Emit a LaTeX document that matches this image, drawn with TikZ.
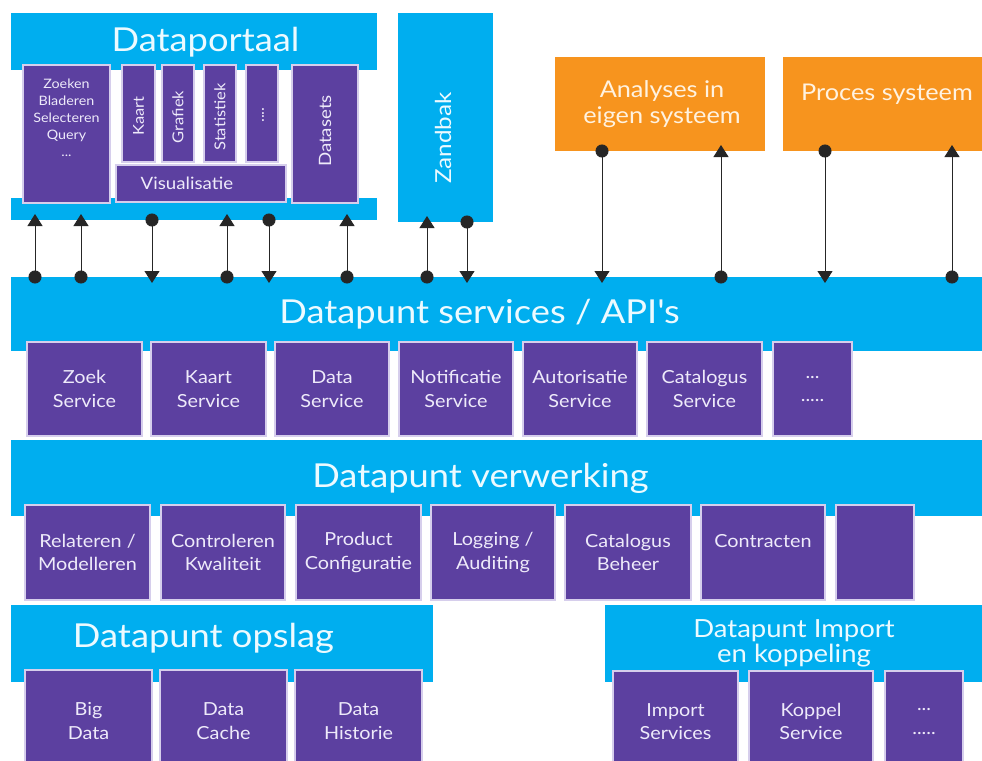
\documentclass[tikz,border=0pt]{standalone}
\usepackage{fontspec}
\setmainfont{Lato}[FakeStretch=1.1]
\usetikzlibrary{arrows.meta}

\definecolor{bandblue}{RGB}{0,174,239}
\definecolor{purp}{RGB}{92,64,160}
\definecolor{pline}{RGB}{214,206,236}
\definecolor{ptext}{RGB}{238,234,250}
\definecolor{htext}{RGB}{236,250,255}
\definecolor{orng}{RGB}{247,148,30}
\definecolor{otext}{RGB}{255,242,224}

\begin{document}
\begin{tikzpicture}[x=1pt,y=-1pt,
  band/.style={fill=bandblue, draw=none, inner sep=0pt, outer sep=0pt, anchor=north west},
  obox/.style={fill=orng, draw=none, inner sep=0pt, outer sep=0pt, anchor=north west},
  pbox/.style={fill=purp, draw=pline, line width=1.4pt, inner sep=0pt, outer sep=0pt,
    anchor=north west, align=center, text=ptext, font=\fontsize{18}{23.5}\selectfont},
  head/.style={text=htext, inner sep=0pt, align=center, font=\fontsize{33}{36}\selectfont},
  otxt/.style={text=otext, inner sep=0pt, align=center, font=\fontsize{23}{26}\selectfont},
  ptxt/.style={text=ptext, inner sep=0pt, align=center},
  vtxt/.style={ptxt, rotate=90},
  link/.style={draw=black!85, line width=0.9pt,
    {Circle[length=13pt]}-{Triangle[length=12pt,width=15pt]},
    shorten <=-6.5pt, shorten >=-6pt}
]
\useasboundingbox (0,0) rectangle (982,760);

% ---------- blue layers ----------
\node[band, minimum width=366pt, minimum height=57pt] (portaltop) at (11,13) {};
\node[band, minimum width=366pt, minimum height=22pt] (portalbase) at (11,198) {};
\node[band, minimum width=95pt, minimum height=209pt] (zandbak) at (398,13) {};
\node[band, minimum width=975pt, minimum height=74pt] (svcband) at (11,277) {};
\node[band, minimum width=975pt, minimum height=76pt] (verwband) at (11,440) {};
\node[band, minimum width=422pt, minimum height=77pt] (opslagband) at (11,605) {};
\node[band, minimum width=381pt, minimum height=77pt] (importband) at (605,605) {};

% ---------- external systems ----------
\node[obox, minimum width=210pt, minimum height=94pt] (analyses) at (555,57) {};
\node[obox, minimum width=203pt, minimum height=94pt] (proces) at (783,57) {};
\node[otxt] (analysestxt) at (662,104) {Analyses in\\eigen systeem};
\node[otxt, anchor=base] (procestxt) at (887,100) {Proces systeem};

% ---------- headings ----------
\node[head, anchor=base] (portaltxt) at (205.5,52) {Dataportaal};
\node[head, anchor=base] (svctxt) at (479.5,323) {Datapunt services / API\textquotesingle s};
\node[head, anchor=base] (verwtxt) at (480.5,487) {Datapunt verwerking};
\node[head, anchor=base] (opslagtxt) at (203.5,647) {Datapunt opslag};
\node[head, font=\fontsize{25}{25}\selectfont] (importtxt) at (794,643) {Datapunt Import\\en koppeling};
\node[vtxt, text=htext, font=\fontsize{22}{22}\selectfont] (zandbaktxt) at (443,138) {Zandbak};

% ---------- dataportaal components ----------
\node[pbox, minimum width=87pt, minimum height=138pt] (zoeken) at (23,65) {};
\node[pbox, minimum width=33pt, minimum height=97pt] (kaart) at (122,65) {};
\node[pbox, minimum width=32pt, minimum height=97pt] (grafiek) at (162,65) {};
\node[pbox, minimum width=32pt, minimum height=97pt] (statistiek) at (204,65) {};
\node[pbox, minimum width=32pt, minimum height=97pt] (overig) at (246,65) {};
\node[pbox, minimum width=170pt, minimum height=37pt] (visual) at (116,165) {};
\node[pbox, minimum width=66pt, minimum height=138pt] (datasets) at (292,65) {};

\node[ptxt, font=\fontsize{13}{17}\selectfont] (zoekentxt) at (66.5,118)
  {Zoeken\\Bladeren\\Selecteren\\Query\\...};
\node[vtxt, font=\fontsize{15}{15}\selectfont] (kaarttxt) at (138.5,116) {Kaart};
\node[vtxt, font=\fontsize{15}{15}\selectfont] (grafiektxt) at (178,117) {Grafiek};
\node[vtxt, font=\fontsize{15}{15}\selectfont] (statistiektxt) at (220,117) {Statistiek};
\node[vtxt, font=\fontsize{15}{15}\selectfont] (overigtxt) at (263,115) {....};
\node[ptxt, font=\fontsize{17}{17}\selectfont] (visualtxt) at (187,183) {Visualisatie};
\node[vtxt, font=\fontsize{17}{17}\selectfont] (datasetstxt) at (325,131) {Datasets};

% ---------- services ----------
\node[pbox, minimum width=115pt, minimum height=94pt] (s1) at (27,342) {Zoek\\Service};
\node[pbox, minimum width=115pt, minimum height=94pt] (s2) at (151,342) {Kaart\\Service};
\node[pbox, minimum width=114pt, minimum height=94pt] (s3) at (275,342) {Data\\Service};
\node[pbox, minimum width=114pt, minimum height=94pt] (s4) at (399,342) {Notificatie\\Service};
\node[pbox, minimum width=114pt, minimum height=94pt] (s5) at (523,342) {Autorisatie\\Service};
\node[pbox, minimum width=115pt, minimum height=94pt] (s6) at (647,342) {Catalogus\\Service};
\node[pbox, minimum width=79pt, minimum height=94pt] (s7) at (773,342) {...\\.....};

% ---------- processing ----------
\node[pbox, minimum width=125pt, minimum height=95pt] (v1) at (25,505) {Relateren /\\Modelleren};
\node[pbox, minimum width=124pt, minimum height=95pt] (v2) at (161,505) {Controleren\\Kwaliteit};
\node[pbox, minimum width=125pt, minimum height=95pt] (v3) at (296,505) {Product\\Configuratie};
\node[pbox, minimum width=124pt, minimum height=95pt] (v4) at (431,505) {Logging /\\Auditing};
\node[pbox, minimum width=126pt, minimum height=95pt] (v5) at (565,505) {Catalogus\\Beheer};
\node[pbox, minimum width=124pt, minimum height=95pt] (v6) at (701,505) {Contracten\\\mbox{}};
\node[pbox, minimum width=78pt, minimum height=95pt] (v7) at (836,505) {};

% ---------- storage ----------
\node[pbox, minimum width=127pt, minimum height=102pt] (o1) at (25,670) {Big\\Data};
\node[pbox, minimum width=127pt, minimum height=102pt] (o2) at (160,670) {Data\\Cache};
\node[pbox, minimum width=127pt, minimum height=102pt] (o3) at (295,670) {Data\\Historie};

% ---------- import ----------
\node[pbox, minimum width=125pt, minimum height=101pt] (i1) at (613,671) {Import\\Services};
\node[pbox, minimum width=124pt, minimum height=101pt] (i2) at (749,671) {Koppel\\Service};
\node[pbox, minimum width=78pt, minimum height=101pt] (i3) at (885,671) {...\\.....};

% ---------- connector columns ----------
\coordinate (c1) at (35,0);
\coordinate (c2) at (81,0);
\coordinate (c3) at (152,0);
\coordinate (c4) at (227,0);
\coordinate (c5) at (269,0);
\coordinate (c6) at (347,0);
\coordinate (c7) at (427,0);
\coordinate (c8) at (467,0);
\coordinate (c9) at (602,0);
\coordinate (c10) at (721,0);
\coordinate (c11) at (825,0);
\coordinate (c12) at (952,0);

% dot end = source, triangle end = target
\draw[link] (svcband.north -| c1) -- (portalbase.south -| c1);
\draw[link] (svcband.north -| c2) -- (portalbase.south -| c2);
\draw[link] (portalbase.south -| c3) -- (svcband.north -| c3);
\draw[link] (svcband.north -| c4) -- (portalbase.south -| c4);
\draw[link] (portalbase.south -| c5) -- (svcband.north -| c5);
\draw[link] (svcband.north -| c6) -- (portalbase.south -| c6);
\draw[link] (svcband.north -| c7) -- (zandbak.south -| c7);
\draw[link] (zandbak.south -| c8) -- (svcband.north -| c8);
\draw[link] (analyses.south -| c9) -- (svcband.north -| c9);
\draw[link] (svcband.north -| c10) -- (analyses.south -| c10);
\draw[link] (proces.south -| c11) -- (svcband.north -| c11);
\draw[link] (svcband.north -| c12) -- (proces.south -| c12);
\end{tikzpicture}
\end{document}
